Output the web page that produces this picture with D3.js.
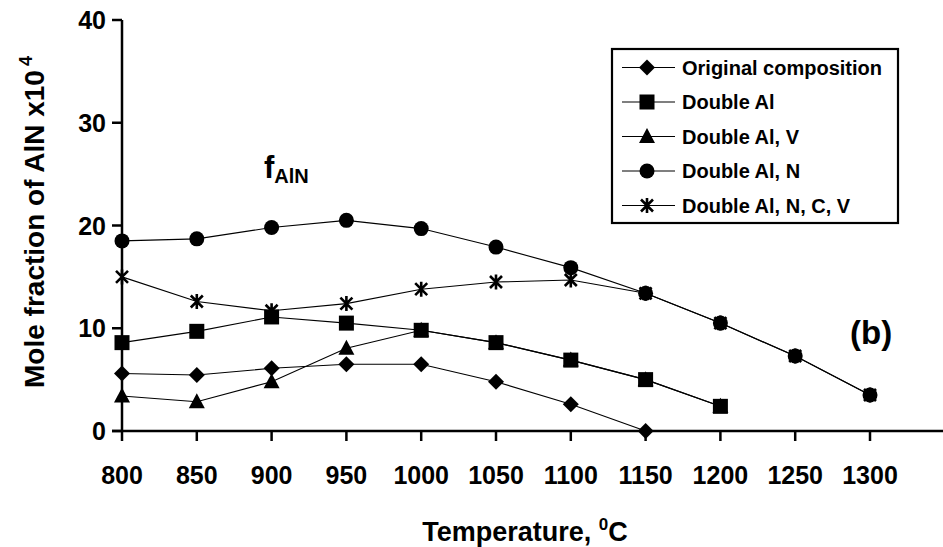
<!DOCTYPE html>
<html>
<head>
<meta charset="utf-8">
<script src="https://cdn.jsdelivr.net/npm/d3@7"></script>
<style>
    body { margin: 0; background: #fff; }
    svg text { font-family: "Liberation Sans", Arial, sans-serif; font-weight: bold; fill: #000; }
</style>
</head>
<body>
<div id="chart"></div>
<script>
// temperatures (deg C) and AlN mole fraction x10^4
let temps = [800, 850, 900, 950, 1000, 1050, 1100, 1150, 1200, 1250, 1300];
let xTicks = [800, 850, 900, 950, 1000, 1050, 1100, 1150, 1200, 1250, 1300];
let yTicks = [0, 10, 20, 30, 40];

let original = [5.6, 5.45, 6.1, 6.5, 6.5, 4.8, 2.6, 0];
let doubleAl = [8.6, 9.7, 11.1, 10.5, 9.8, 8.6, 6.9, 5.0, 2.4];
let doubleAlV = [3.4, 2.85, 4.8, 8.05, 9.8, 8.6, 6.9, 5.0, 2.4];
let doubleAlN = [18.5, 18.7, 19.8, 20.5, 19.7, 17.9, 15.9, 13.4, 10.5, 7.3, 3.5];
let doubleAlNCV = [15.0, 12.6, 11.7, 12.4, 13.8, 14.5, 14.7, 13.4, 10.5, 7.3, 3.5];

let seriesNames = ["Original composition", "Double Al", "Double Al, V", "Double Al, N", "Double Al, N, C, V"];
let seriesValues = [original, doubleAl, doubleAlV, doubleAlN, doubleAlNCV];
let seriesMarkers = ["diamond", "square", "triangle", "circle", "star"];

let width = 943, height = 547;
let svg = d3.select("#chart").append("svg")
    .attr("width", width)
    .attr("height", height);

let x = d3.scaleLinear().domain([800, 1300]).range([122, 870]);
let y = d3.scaleLinear().domain([0, 40]).range([431, 20]);

// marker shapes
function drawMarker(g, type) {
    if (type === "diamond") {
        g.append("path").attr("d", "M0,-8L8,0L0,8L-8,0Z");
    } else if (type === "square") {
        g.append("rect").attr("x", -7.5).attr("y", -7.5).attr("width", 15).attr("height", 15);
    } else if (type === "triangle") {
        g.append("path").attr("d", "M0,-8.5L8,6.5L-8,6.5Z");
    } else if (type === "circle") {
        g.append("circle").attr("r", 7.5);
    } else if (type === "star") {
        g.append("path")
            .attr("d", "M0,-7.5V7.5M-6,-6L6,6M6,-6L-6,6")
            .attr("stroke", "#000")
            .attr("stroke-width", 2.6)
            .attr("fill", "none");
    }
}

////////// axes //////////
let axes = svg.append("g").attr("stroke", "#000").attr("stroke-width", 2.5);
axes.append("line").attr("x1", x(800)).attr("x2", x(800)).attr("y1", y(40)).attr("y2", y(0));
axes.append("line").attr("x1", x(800) - 10).attr("x2", width).attr("y1", y(0)).attr("y2", y(0));

axes.selectAll(".ytick").data(yTicks).enter().append("line")
    .attr("class", "ytick")
    .attr("x1", x(800) - 10).attr("x2", x(800))
    .attr("y1", d => y(d)).attr("y2", d => y(d));

axes.selectAll(".xtick").data(xTicks).enter().append("line")
    .attr("class", "xtick")
    .attr("x1", d => x(d)).attr("x2", d => x(d))
    .attr("y1", y(0)).attr("y2", y(0) + 10);

svg.selectAll(".ylab").data(yTicks).enter().append("text")
    .attr("class", "ylab")
    .attr("x", x(800) - 16)
    .attr("y", d => y(d))
    .attr("dy", "0.36em")
    .attr("text-anchor", "end")
    .attr("font-size", 25)
    .text(d => d);

svg.selectAll(".xlab").data(xTicks).enter().append("text")
    .attr("class", "xlab")
    .attr("x", d => x(d))
    .attr("y", 484)
    .attr("text-anchor", "middle")
    .attr("font-size", 25)
    .text(d => d);

// axis titles
let xTitle = svg.append("text")
    .attr("x", 525)
    .attr("y", 541)
    .attr("text-anchor", "middle")
    .attr("font-size", 27);
xTitle.append("tspan").text("Temperature, ");
xTitle.append("tspan").attr("font-size", 17).attr("dy", -11).text("0");
xTitle.append("tspan").attr("dy", 11).text("C");

let yTitle = svg.append("text")
    .attr("transform", "translate(44,222) rotate(-90)")
    .attr("text-anchor", "middle")
    .attr("font-size", 28);
yTitle.append("tspan").text("Mole fraction of AlN x10");
yTitle.append("tspan").attr("font-size", 18).attr("dy", -12).attr("dx", 4).text("4");

////////// series //////////
let line = d3.line().x((d, i) => x(temps[i])).y(d => y(d));

seriesValues.forEach(function (vals, k) {
    let g = svg.append("g").attr("class", "series");
    g.append("path")
        .attr("d", line(vals))
        .attr("fill", "none")
        .attr("stroke", "#000")
        .attr("stroke-width", 1.1);
    vals.forEach(function (v, i) {
        let m = g.append("g")
            .attr("transform", "translate(" + x(temps[i]) + "," + y(v) + ")")
            .attr("fill", "#000");
        drawMarker(m, seriesMarkers[k]);
    });
});

////////// legend //////////
let legend = svg.append("g").attr("transform", "translate(612,49)");
legend.append("rect")
    .attr("width", 286).attr("height", 174)
    .attr("fill", "#fff")
    .attr("stroke", "#000")
    .attr("stroke-width", 2.2);

seriesNames.forEach(function (name, k) {
    let row = legend.append("g").attr("transform", "translate(0," + (18.5 + k * 34.5) + ")");
    row.append("line").attr("x1", 10).attr("x2", 63).attr("stroke", "#000").attr("stroke-width", 1.1);
    let m = row.append("g").attr("transform", "translate(35,0)").attr("fill", "#000");
    drawMarker(m, seriesMarkers[k]);
    row.append("text")
        .attr("x", 70)
        .attr("dy", "0.36em")
        .attr("font-size", 20)
        .text(name);
});

// annotations
let fText = svg.append("text").attr("x", 264).attr("y", 178).attr("font-size", 31);
fText.append("tspan").text("f");
fText.append("tspan").attr("font-size", 20).attr("dy", 5).text("AlN");

svg.append("text")
    .attr("x", 850)
    .attr("y", 344)
    .attr("font-size", 33)
    .text("(b)");
</script>
</body>
</html>
